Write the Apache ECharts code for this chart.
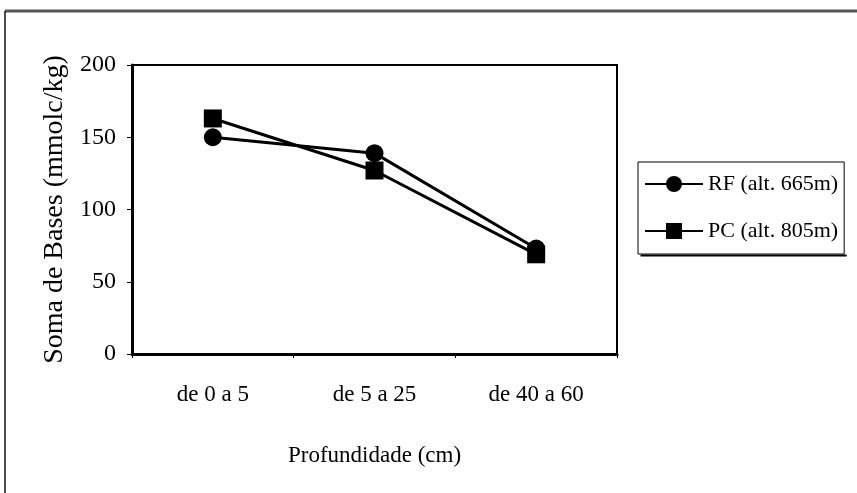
<!DOCTYPE html>
<html>
<head>
<meta charset="utf-8">
<script src="https://cdn.jsdelivr.net/npm/echarts@6/dist/echarts.min.js"></script>
<style>
  html, body { margin: 0; padding: 0; background: #fff; }
  #chart { width: 857px; height: 493px; }
</style>
</head>
<body>
<div id="chart"></div>
<script>
// Profundidade do solo (cm)
const categories = ['de 0 a 5', 'de 5 a 25', 'de 40 a 60'];
// Soma de bases (mmolc/kg)
const rfValues = [150, 139, 73];
const pcValues = [163, 127, 69];
const rfName = 'RF (alt. 665m)';
const pcName = 'PC (alt. 805m)';

const serif = 'Liberation Serif';
const chart = echarts.init(document.getElementById('chart'), null, { renderer: 'canvas' });

// page frame: top rule and left margin line
const frame = [
  { type: 'line', shape: { x1: 5, y1: 11, x2: 857, y2: 11 }, style: { stroke: '#555', lineWidth: 3 } },
  { type: 'line', shape: { x1: 5, y1: 11, x2: 5, y2: 493 }, style: { stroke: '#111', lineWidth: 1.5 } }
];

chart.setOption({
  backgroundColor: '#fff',
  animation: false,
  grid: {
    left: 132, right: 240, top: 65, bottom: 139,
    show: true, borderColor: '#000', borderWidth: 2, backgroundColor: 'transparent'
  },
  legend: {
    orient: 'vertical',
    left: 638, top: 162,
    padding: [11, 6, 12, 6],
    itemGap: 25,
    itemWidth: 58,
    itemHeight: 20,
    borderColor: '#000',
    borderWidth: 1,
    textStyle: { fontFamily: serif, fontSize: 22, color: '#000' },
    data: [rfName, pcName]
  },
  xAxis: {
    type: 'category',
    data: categories,
    boundaryGap: true,
    name: 'Profundidade (cm)',
    nameLocation: 'middle',
    nameGap: 90,
    nameTextStyle: { fontFamily: serif, fontSize: 23, color: '#000' },
    axisLine: { lineStyle: { color: '#000', width: 3 } },
    axisTick: { show: true, length: 4, lineStyle: { color: '#000', width: 1 } },
    axisLabel: { fontFamily: serif, fontSize: 23, color: '#000', margin: 29 },
    splitLine: { show: false }
  },
  yAxis: {
    type: 'value',
    min: 0, max: 200, interval: 50,
    name: 'Soma de Bases (mmolc/kg)',
    nameLocation: 'middle',
    nameGap: 62,
    nameTextStyle: { fontFamily: serif, fontSize: 28, color: '#000' },
    axisLine: { show: true, lineStyle: { color: '#000', width: 3 } },
    axisTick: { show: true, length: 5, lineStyle: { color: '#000', width: 1 } },
    axisLabel: { fontFamily: serif, fontSize: 24, color: '#000', margin: 16 },
    splitLine: { show: false }
  },
  series: [
    {
      name: rfName,
      type: 'line',
      data: rfValues,
      symbol: 'circle',
      symbolSize: 18,
      lineStyle: { color: '#000', width: 3 },
      itemStyle: { color: '#000' },
      z: 3
    },
    {
      name: pcName,
      type: 'line',
      data: pcValues,
      symbol: 'rect',
      symbolSize: 18,
      lineStyle: { color: '#000', width: 3 },
      itemStyle: { color: '#000' },
      z: 2
    }
  ],
  graphic: frame
});

// thick shadow edge under the legend box
const legendView = chart.getViewOfComponentModel(chart.getModel().getComponent('legend'));
if (legendView) {
  const r = legendView.group.getBoundingRect();
  const x = legendView.group.x, y = legendView.group.y;
  chart.setOption({
    graphic: frame.concat([
      { type: 'line', shape: { x1: x + r.x + 3, y1: y + r.y + r.height + 1, x2: x + r.x + r.width + 2, y2: y + r.y + r.height + 1 }, style: { stroke: '#000', lineWidth: 2 } }
    ])
  });
}
</script>
</body>
</html>
